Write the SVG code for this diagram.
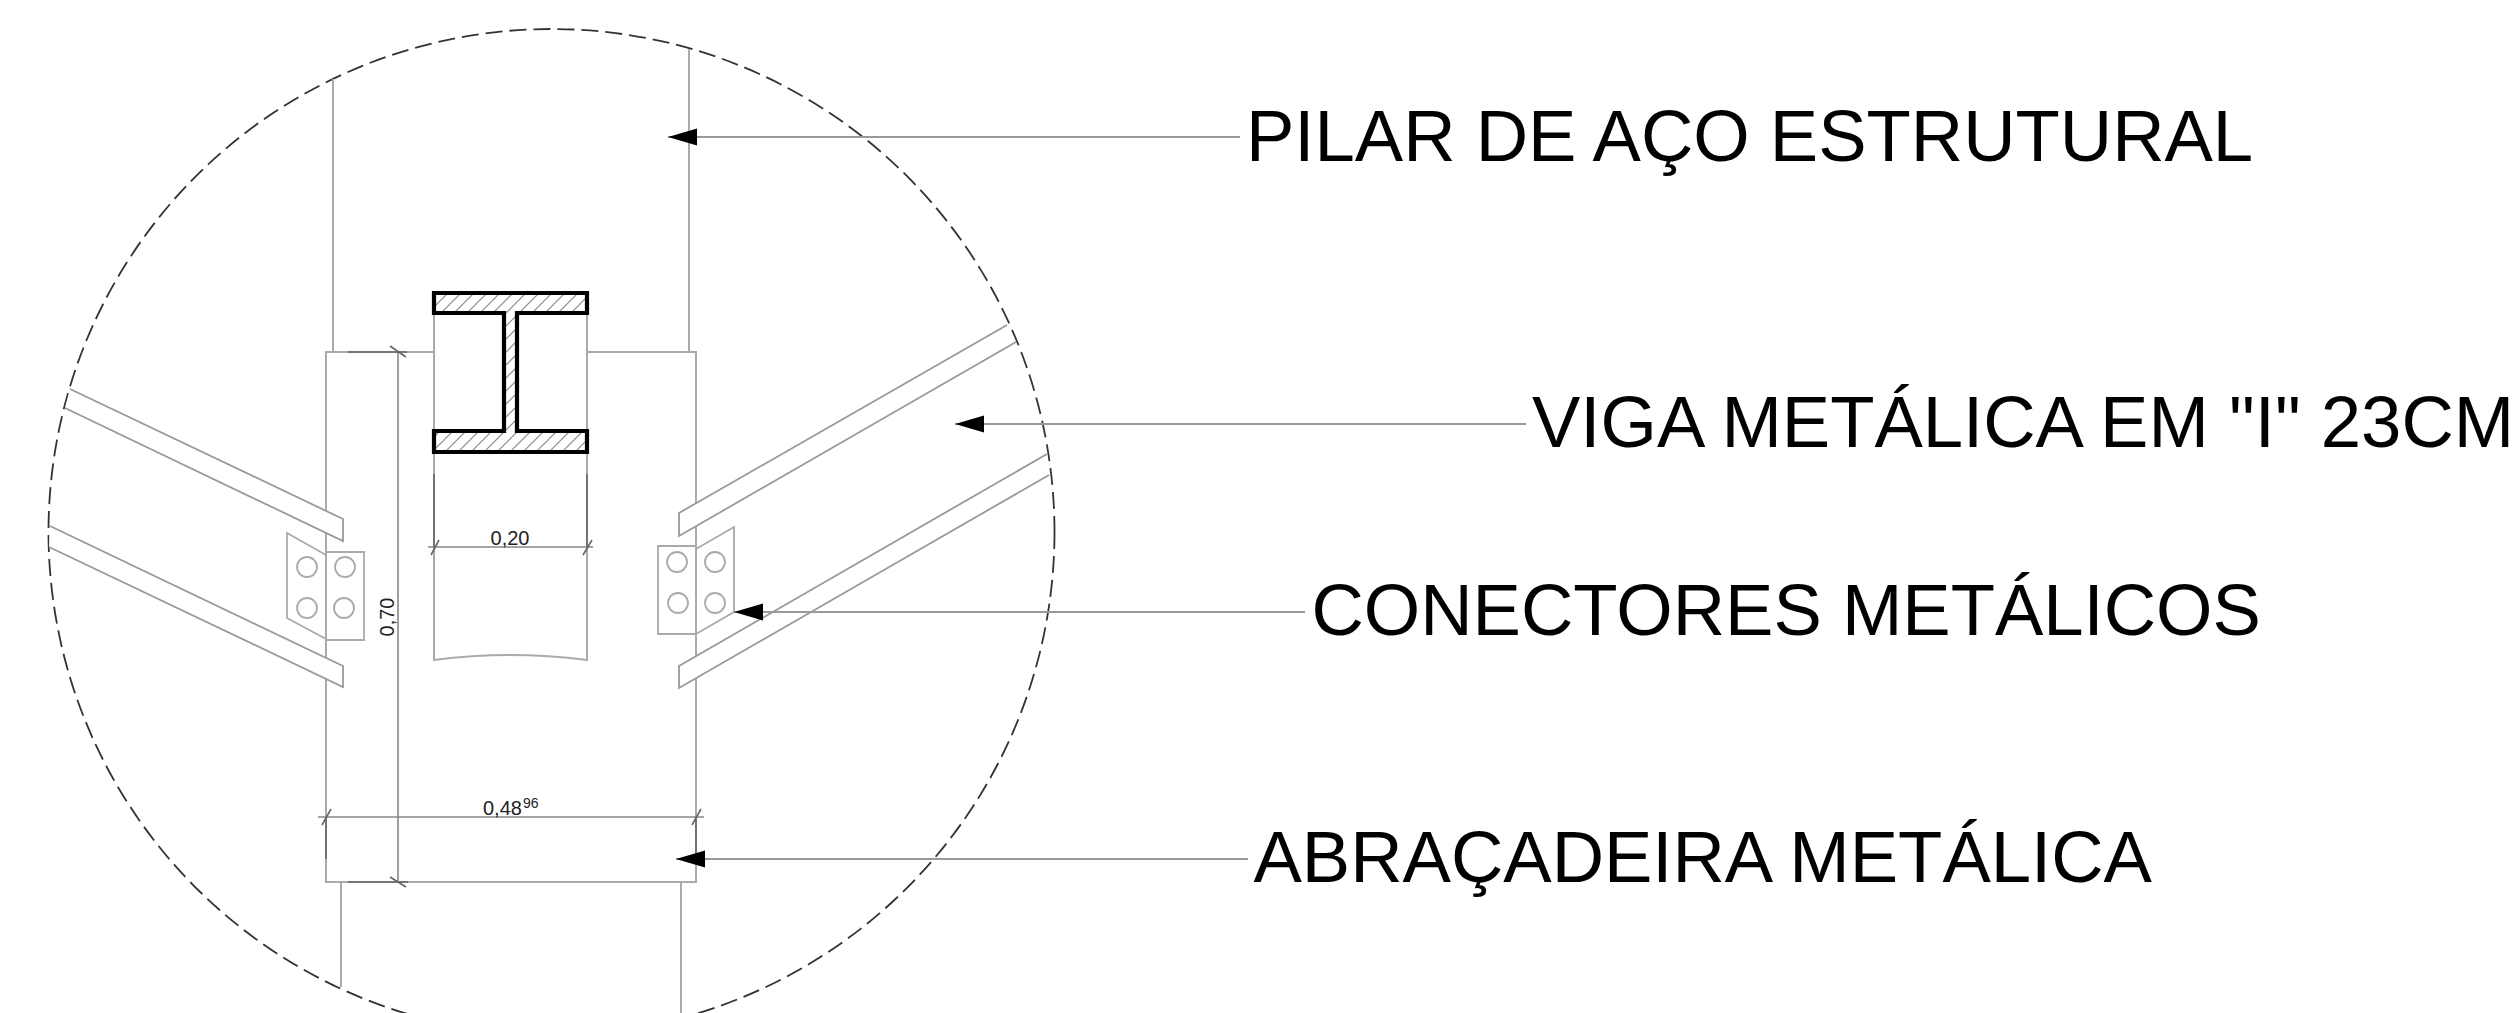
<svg xmlns="http://www.w3.org/2000/svg" width="2518" height="1013" viewBox="0 0 2518 1013">
<style>
text{font-family:"Liberation Sans",Arial,sans-serif;fill:#000}
.label{font-size:72.5px}
.dim{font-size:20px;fill:#222}
.sup{font-size:14px;fill:#222}
.g{fill:none;stroke:#aaa;stroke-width:2}
.b{fill:#fff;stroke:#999;stroke-width:1.8}
.p{fill:none;stroke:#aaa;stroke-width:1.8}
.d{fill:none;stroke:#888;stroke-width:1.6}
.x{fill:none;stroke:#666;stroke-width:1.6}
.s{fill:url(#hatch);stroke:#000;stroke-width:4.2}
.leader{fill:none;stroke:#999;stroke-width:1.8;marker-end:url(#arrow)}
</style>
<defs>
<pattern id="hatch" patternUnits="userSpaceOnUse" width="13" height="13">
<path d="M-2 15L15 -2M-2 2L2 -2M11 15L15 11" stroke="#888" stroke-width="1.2" fill="none"/>
</pattern>
<marker id="arrow" markerUnits="userSpaceOnUse" markerWidth="30" markerHeight="18" refX="29" refY="8.5" orient="auto" viewBox="0 0 30 17">
<path d="M29 8.5L0 0V17Z" fill="#000"/>
</marker>
</defs>
<rect width="2518" height="1013" fill="#fff"/>
<g id="detail-circle"><circle cx="551.5" cy="532" r="503" fill="none" stroke="#333" stroke-width="1.8" stroke-dasharray="17 7"/></g>
<g id="pilar">
<path class="g" d="M333 79V352M689 49V352M341 882V987M681 882V1013"/>
</g>
<g id="abracadeira">
<path class="g" d="M434 352H326V882H696V352H587"/>
</g>
<g id="viga-i">
<path class="g" d="M434 313V431M587 313V431M434 452V660Q510 650 587 660V452"/>
<path class="s" d="M434 293H587V313H517V431H587V452H434V431H504V313H434Z"/>
</g>
<g id="vigas-esquerda">
<polyline class="b" points="70,389 343,519 343,541 65,408"/>
<polyline class="b" points="50,526 343,666 343,687 49,547"/>
</g>
<g id="vigas-direita">
<polyline class="b" points="1007,325 679,513 679,536 1016,342"/>
<polyline class="b" points="1047,454 679,666 679,688 1049,475"/>
</g>
<g id="conector-esquerdo">
<path class="p" d="M326 555L287 533V618L326 639M326 552H364V640H326"/>
<circle class="p" cx="307" cy="567" r="10"/><circle class="p" cx="345" cy="567" r="10"/><circle class="p" cx="307" cy="608" r="10"/><circle class="p" cx="344" cy="608" r="10"/>
</g>
<g id="conector-direito">
<path class="p" d="M696 549L734 527V612L696 634M696 546H658V634H696"/>
<circle class="p" cx="677" cy="562" r="10"/><circle class="p" cx="715" cy="562" r="10"/><circle class="p" cx="678" cy="603" r="10"/><circle class="p" cx="715" cy="603" r="10"/>
</g>
<g id="cotas">
<path class="d" d="M428 547H593M398 352V882M318 817H704"/>
<path class="x" d="M348 352H407M348 882H408M326 817V859M696 817V859M434 474V547M587 474V547"/>
<path class="x" d="M439 540L431 555M592 540L583 555M390 346L406 357M390 877L406 887M331 809L322 825M701 809L692 825"/>
<text class="dim" x="510" y="545" text-anchor="middle">0,20</text>
<text class="dim" transform="translate(394 617) rotate(-90)" text-anchor="middle">0,70</text>
<text class="dim" x="483" y="815">0,48</text>
<text class="sup" x="523" y="808">96</text>
</g>
<g id="conectores">
<path class="leader" d="M1240 137H668"/>
<path class="leader" d="M1526 424H955"/>
<path class="leader" d="M1305 612H734"/>
<path class="leader" d="M1248 859H676"/>
</g>
<g id="rotulos">
<text class="label" x="1246" y="161">PILAR DE AÇO ESTRUTURAL</text>
<text class="label" x="1532" y="447">VIGA METÁLICA EM "I" 23CM</text>
<text class="label" x="1311.5" y="635">CONECTORES METÁLICOS</text>
<text class="label" x="1253.5" y="882">ABRAÇADEIRA METÁLICA</text>
</g>
</svg>
